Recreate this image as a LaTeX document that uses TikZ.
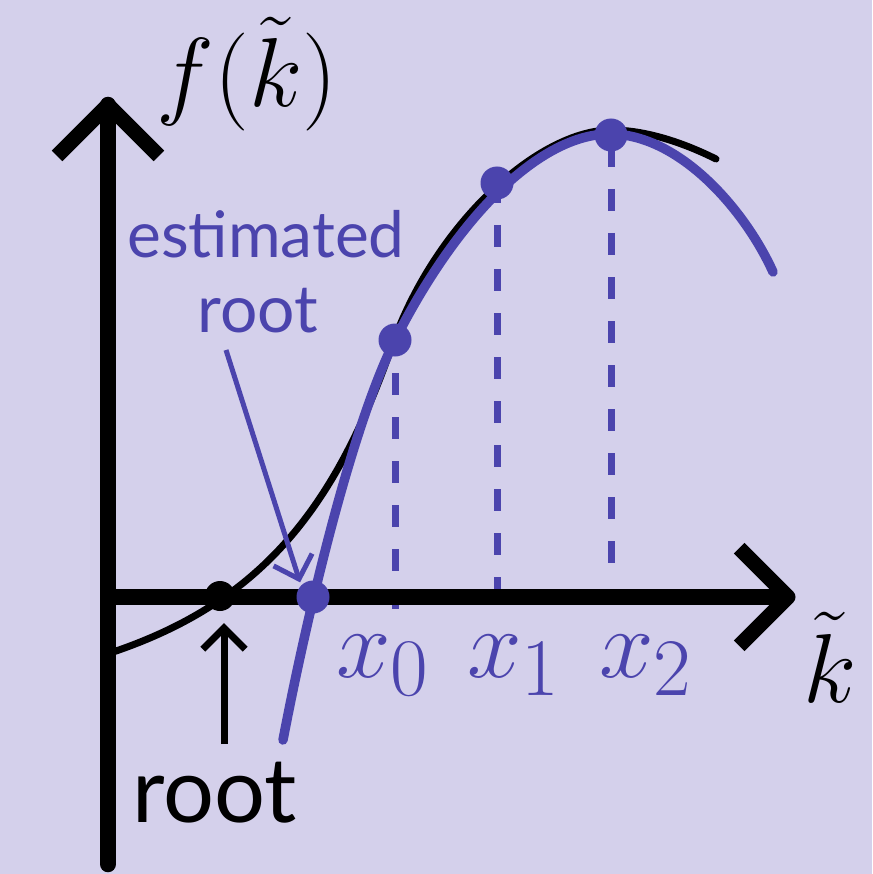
\documentclass[tikz,border=0pt]{standalone}
\usepackage{fontspec}
\newfontfamily\labfont{Lato}
\usetikzlibrary{calc}
\definecolor{bg}{RGB}{212,208,235}
\definecolor{pur}{RGB}{75,68,173}
\newcommand{\bigmath}[1]{\scalebox{3.94}{\Huge$#1$}}
\begin{document}
\begin{tikzpicture}[x=1pt,y=-1pt,
  axisline/.style={line width=16.5pt},
  chev/.style={line width=15pt,line join=round},
  fcurve/.style={line width=7pt,line cap=round},
  gcurve/.style={pur,line width=9.5pt,line cap=round},
  vdash/.style={pur,line width=7pt,dash pattern=on 22pt off 22pt},
  pdot/.style={circle,fill=pur,inner sep=0pt,minimum size=33pt},
  bdot/.style={circle,fill=black,inner sep=0pt,minimum size=30pt},
  mlab/.style={inner sep=0pt,anchor=base},
  slab/.style={font=\labfont\fontsize{#1}{#1}\selectfont,inner sep=0pt,anchor=base},
  ]
\fill[bg] (0,0) rectangle (872,874);
\useasboundingbox (0,0) rectangle (872,874);
% key points
\coordinate (O) at (108,597);
\coordinate (ytip) at (108,105);
\coordinate (ybot) at (108,864);
\coordinate (xtip) at (788,597);
\coordinate (p0) at (395,340);
\coordinate (p1) at (497,183);
\coordinate (p2) at (611,135);
\coordinate (q0) at (395,609);
\coordinate (q1) at (497,589);
\coordinate (q2) at (611,565);
% dashed verticals
\draw[vdash,dash phase=11pt] (p0) -- (q0);
\draw[vdash,dash phase=2pt] (p1) -- (q1);
\draw[vdash,dash phase=34pt] (p2) -- (q2);
% axes
\draw[axisline,line cap=round] (ybot) -- (ytip);
\draw[axisline] (O) -- (xtip);
\draw[chev] ($(ytip)!72pt!45:(ybot)$) -- (ytip) -- ($(ytip)!72pt!-45:(ybot)$);
\draw[chev] ($(xtip)!69pt!45:(O)$) -- (xtip) -- ($(xtip)!69pt!-45:(O)$);
% black function
\draw[fcurve] (104,655) .. controls (260,605) and (335,510) .. (393,343)
  .. controls (437,221) and (540,130) .. (611,130)
  .. controls (650,130) and (690,146) .. (716,159);
% purple model curve
\draw[gcurve] (283,740) .. controls (305,625) and (350,430) .. (395,340)
  .. controls (462,208) and (545,133) .. (611,134)
  .. controls (680,135) and (745,210) .. (773,272);
% dots
\node[bdot] (r) at (220,596) {};
\node[pdot] (e) at (313,597) {};
\node[pdot] (d0) at (p0) {};
\node[pdot] (d1) at (p1) {};
\node[pdot] (d2) at (p2) {};
% labels
\node[mlab] (fl) at (247,107) {\bigmath{f(\tilde k)}};
\node[mlab] (kl) at (830,702) {\bigmath{\tilde k}};
\node[mlab,text=pur] (x0) at (383,677) {\bigmath{x_0}};
\node[mlab,text=pur] (x1) at (514,677) {\bigmath{x_1}};
\node[mlab,text=pur] (x2) at (646,677) {\bigmath{x_2}};
\node[slab=64,text=pur] (est) at (266,258) {estimated};
\node[slab=66,text=pur] (estr) at (258,332) {root};
\node[slab=90] (rl) at (215,822) {root};
% annotation arrows
\coordinate (ea) at (226,350);
\coordinate (eb) at (299,579);
\draw[pur,line width=5pt] (ea) -- (eb);
\draw[pur,line width=5pt] ($(eb)!28.6pt!45:(ea)$) -- (eb) -- ($(eb)!28.6pt!-45:(ea)$);
\coordinate (ra) at (224,744);
\coordinate (rb) at (224,628);
\draw[line width=7pt] (ra) -- (rb);
\draw[line width=7pt] ($(rb)!30pt!45:(ra)$) -- (rb) -- ($(rb)!30pt!-45:(ra)$);
\end{tikzpicture}
\end{document}
